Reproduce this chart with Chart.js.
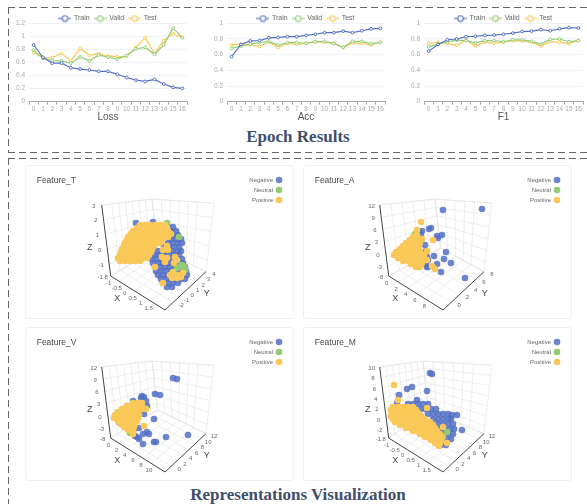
<!DOCTYPE html>
<html>
<head>
<meta charset="utf-8">
<title>Epoch Results</title>
<script src="https://cdn.jsdelivr.net/npm/chart.js@4"></script>
<style>
  html, body { margin: 0; padding: 0; background: #fff; }
  body { position: relative; width: 587px; height: 504px; overflow: hidden; font-family: "Liberation Sans", sans-serif; }
  canvas { position: absolute; }
  .dash-h { position: absolute; height: 1px; background: repeating-linear-gradient(90deg, #666 0 7px, transparent 7px 11px); }
  .dash-v { position: absolute; width: 1px; background: repeating-linear-gradient(180deg, #666 0 7px, transparent 7px 11px); }
  .card { position: absolute; width: 269px; height: 154px; border: 1px solid #eef0f7; border-radius: 3px; box-sizing: border-box; }
  .heading { position: absolute; left: 0; width: 596px; text-align: center; font: bold 17px "Liberation Serif", serif; color: #3f4f6b; }
</style>
</head>
<body>
<div class="dash-h" style="left:8px;top:7px;width:579px"></div>
<div class="dash-v" style="left:8px;top:7px;height:145px"></div>
<div class="dash-h" style="left:8px;top:152px;width:579px"></div>
<div class="dash-h" style="left:8px;top:158px;width:579px"></div>
<div class="dash-v" style="left:8px;top:158px;height:346px"></div>
<div class="heading" style="top:127px">Epoch Results</div>
<div class="heading" style="top:485px">Representations Visualization</div>

<div class="card" style="left:25px;top:165px"></div>
<div class="card" style="left:303px;top:165px"></div>
<div class="card" style="left:25px;top:327px"></div>
<div class="card" style="left:303px;top:327px"></div>

<canvas id="loss" width="200" height="115" style="left:8px;top:8px"></canvas>
<canvas id="acc" width="200" height="115" style="left:206px;top:8px"></canvas>
<canvas id="f1" width="200" height="115" style="left:403px;top:8px"></canvas>
<canvas id="featT" width="269" height="154" style="left:25px;top:165px"></canvas>
<canvas id="featA" width="269" height="154" style="left:303px;top:165px"></canvas>
<canvas id="featV" width="269" height="154" style="left:25px;top:327px"></canvas>
<canvas id="featM" width="269" height="154" style="left:303px;top:327px"></canvas>

<script>
const epochs = ['0','1','2','3','4','5','6','7','8','9','10','11','12','13','14','15','16'];

const lossTrain = [.868,.68,.59,.59,.52,.50,.485,.465,.465,.42,.37,.33,.31,.34,.27,.22,.205];
const lossValid = [.79,.665,.63,.625,.59,.685,.625,.715,.68,.655,.705,.81,.83,.725,.87,1.125,.98];
const lossTest = [.755,.67,.675,.74,.625,.815,.71,.735,.70,.69,.695,.83,.98,.74,.935,1.04,.98];

const accTrain = [.575,.73,.775,.78,.815,.82,.83,.83,.845,.86,.88,.88,.90,.88,.905,.93,.935];
const accValid = [.68,.71,.735,.755,.77,.72,.755,.755,.745,.765,.77,.74,.695,.77,.77,.74,.755];
const accTest = [.725,.735,.725,.705,.765,.69,.745,.73,.745,.765,.76,.745,.69,.75,.745,.725,.76];

const f1Train = [.645,.73,.79,.80,.83,.835,.845,.85,.86,.875,.895,.90,.92,.905,.93,.945,.94];
const f1Valid = [.70,.735,.765,.785,.78,.75,.78,.78,.765,.79,.79,.77,.735,.795,.80,.765,.78];
const f1Test = [.745,.755,.745,.72,.785,.71,.76,.745,.76,.78,.775,.76,.71,.765,.76,.74,.78];

// the 3d scatters only exist as a projection in the picture, so points are [across, down] as seen on the card
const tNegative = [[111,58],[128,57],[143,62],[148,62],[146,66],[151,66],[148,70],[153,70],[146,74],[151,74],[156,74],
  [143,78],[148,78],[153,78],[157,78],[139,82],[144,82],[149,82],[154,82],
  [133,86],[138,86],[143,86],[148,86],[153,86],[156,86],[129,90],[134,90],[139,90],[144,90],[149,90],[154,90],
  [127,94],[132,94],[137,94],[142,94],[147,94],[152,94],[157,94],[128,98],[133,98],[138,98],[143,98],[148,98],[153,98],[158,98],
  [130,102],[135,102],[140,102],[145,102],[150,102],[155,102],[160,102],[131,106],[136,106],[141,106],[146,106],[151,106],[156,106],[161,106],
  [133,110],[138,110],[143,110],[148,110],[153,110],[158,110],[162,110],[136,114],[141,114],[146,114],[151,114],[156,114],[160,114],
  [138,118],[143,118],[148,118],[153,118],[142,122],[147,122]];
const tNeutral = [[152,103],[155,102],[159,102],[160,105],[154,72],[142,58],[157,100]];
const tPositive = [[115,60],[120,60],[125,60],[130,60],[135,60],[140,60],
  [112,63],[117,63],[122,63],[127,63],[132,63],[137,63],[142,63],
  [108,66],[113,66],[118,66],[123,66],[128,66],[133,66],[138,66],[143,66],
  [106,69],[111,69],[116,69],[121,69],[126,69],[131,69],[136,69],[141,69],[146,69],
  [103,72],[108,72],[113,72],[118,72],[123,72],[128,72],[133,72],[138,72],[143,72],
  [102,75],[107,75],[112,75],[117,75],[122,75],[127,75],[132,75],[137,75],
  [100,78],[105,78],[110,78],[115,78],[120,78],[125,78],[130,78],[135,78],
  [99,81],[104,81],[109,81],[114,81],[119,81],[124,81],[129,81],
  [97,84],[102,84],[107,84],[112,84],[117,84],[122,84],[127,84],
  [96,87],[101,87],[106,87],[111,87],[116,87],[121,87],[126,87],
  [95,90],[100,90],[105,90],[110,90],[115,90],[120,90],[124,90],
  [93,93],[98,93],[103,93],[108,93],[113,93],[118,93],[122,93],
  [95,96],[100,96],[105,96],[110,96],[115,96],
  [138,85],[142,81],[143,85],[137,92],[142,93],[140,97],[150,92],[152,95],[149,98],[130,102],
  [145,110],[148,107],[153,110],[158,108],[147,113],[152,113],[138,118],[156,112]];

const aNegative = [[140,45],[179,44],[128,63],[126,64],[119,66],[116,67],[134,71],[135,73],[139,70],[122,80],[143,87],[123,86],
  [131,91],[141,94],[148,98],[134,99],[138,107],[162,113],[124,92],[119,93],[125,95],[123,99],[125,102],[124,102],[117,77],[118,70]];
const aNeutral = [[112,69],[102,81]];
const aPositive = [[118,57],[114,65],[130,75],[119,74],[114,70],[124,86],[121,90],[119,98],[129,101],[132,104],[124,95],
  [110,72],[114,72],[107,75],[112,75],[116,75],[103,78],[108,78],[113,78],[117,78],[100,81],[105,81],[110,81],[115,81],
  [97,84],[102,84],[107,84],[112,84],[116,84],[93,87],[98,87],[103,87],[108,87],[113,87],[117,87],
  [91,90],[96,90],[101,90],[106,90],[111,90],[116,90],[119,90],[95,93],[100,93],[105,93],[110,93],[115,93],[119,93],
  [100,96],[105,96],[110,96],[115,96],[119,96],[108,99],[113,99],[117,99],[113,102],[117,102]];

const vNegative = [[148,51],[152,52],[130,67],[135,68],[117,69],[119,70],[121,74],[116,71],[108,74],[122,79],[119,87],[129,92],
  [110,101],[114,101],[108,105],[112,110],[114,112],[110,109],[122,105],[118,107],[124,107],[141,110],[163,108],[118,117],[129,115],[131,115],
  [95,96],[102,100],[102,79]];
const vNeutral = [[105,106]];
const vPositive = [[108,76],[113,76],[117,76],[102,79],[107,79],[112,79],[117,79],[97,82],[102,82],[107,82],[112,82],[117,82],
  [93,85],[98,85],[103,85],[108,85],[113,85],[90,88],[95,88],[100,88],[105,88],[110,88],[114,88],
  [89,91],[94,91],[99,91],[104,91],[109,91],[113,91],[93,94],[98,94],[103,94],[108,94],[112,94],
  [96,97],[101,97],[106,97],[110,97],[99,100],[104,100],[109,100],[103,103],[108,103],
  [121,82],[119,99],[108,107],[112,91]];

const mNegative = [[127,46],[129,47],[104,62],[109,60],[124,64],[96,68],[114,73],[94,76],[159,103],[154,88],[149,88],
  [105,77],[110,77],[115,77],[120,77],[125,77],[118,82],[123,82],[128,82],[133,82],
  [125,87],[130,87],[135,87],[140,87],[145,87],[130,92],[135,92],[140,92],[145,92],[148,92],
  [135,97],[140,97],[145,97],[150,97],[137,102],[142,102],[147,102],[151,102],[140,107],[145,107],[150,107],
  [143,112],[148,112],[138,118],[143,118]];
const mNeutral = [[144,105],[130,100],[140,110]];
const mPositive = [[91,58],[95,73],[124,81],[140,100],[144,116],
  [90,80],[95,80],[100,80],[105,80],[110,80],[88,83],[93,83],[98,83],[103,83],[108,83],[113,83],
  [90,86],[95,86],[100,86],[105,86],[110,86],[115,86],[88,89],[93,89],[98,89],[103,89],[108,89],[113,89],[118,89],
  [90,92],[95,92],[100,92],[105,92],[110,92],[115,92],[122,92],[92,95],[97,95],[102,95],[107,95],[112,95],[117,95],[122,95],[127,95],
  [97,98],[102,98],[107,98],[112,98],[117,98],[122,98],[127,98],[130,98],[103,101],[108,101],[113,101],[118,101],[123,101],[128,101],[132,101],
  [110,104],[115,104],[120,104],[125,104],[130,104],[134,104],[117,107],[122,107],[127,107],[132,107],[137,107],
  [122,110],[127,110],[132,110],[137,110],[139,110],[128,113],[133,113],[138,113],[132,116],[137,116],[136,119]];

// axis ticks of the 3d boxes
const tXTicks = [-1,-0.5,0,0.5,1,1.5];
const tYTicks = [-2,-1,0,1,2,3,4];
const tZTicks = [3,2,1,0,-1,-1.8];
const tZLabels = ['3','2','1','0','-1','-1.8'];
const aXTicks = [0,2,4,6,8];
const aYTicks = [0,2,4,6,8];
const aZTicks = [12,9,6,3,0,-3,-5.4];
const aZLabels = ['12','9','6','3','0','-3','-8'];
const vXTicks = [0,2,4,6,8,10];
const vYTicks = [0,2,4,6,8,10,12];
const vZTicks = [12,9,6,3,0,-3,-5.4];
const vZLabels = ['12','9','6','3','0','-3','-8'];
const mXTicks = [-1,-0.5,0,0.5,1,1.5];
const mYTicks = [0,2,4,6,8,10,12];
const mZTicks = [10,8,6,4,2,0,-2,-3.6];
const mZLabels = ['10','8','6','4','2','0','-2','-1.8'];

const BLUE = '#5470c6', GREEN = '#91cc75', YELLOW = '#fac858';

function legendIcon(color) {
    let c = document.createElement('canvas');
    c.width = 13;
    c.height = 8;
    let g = c.getContext('2d');
    g.strokeStyle = color;
    g.lineWidth = 1.1;
    g.beginPath();
    g.moveTo(0, 4);
    g.lineTo(13, 4);
    g.stroke();
    g.fillStyle = '#fff';
    g.beginPath();
    g.arc(6.5, 4, 2.8, 0, Math.PI * 2);
    g.fill();
    g.stroke();
    return c;
}

// legend height fixed so the plot lands in the same place, and centred over the plot
const fixLegend = {
    id: 'fixLegend',
    beforeInit(chart) {
        const fit = chart.legend.fit;
        chart.legend.fit = function () {
            fit.call(this);
            this.height = 13.3;
        };
    },
    afterLayout(chart) {
        chart.legend.left += 10.5;
        chart.legend.right += 10.5;
    }
};

function lineChart(id, name, train, valid, test, maxY) {
    const mk = (label, data, color) => ({
        label: label, data: data, borderColor: color, backgroundColor: color,
        borderWidth: 1.2, pointRadius: 1.4, pointBackgroundColor: '#fff', pointBorderWidth: 1, tension: 0
    });
    new Chart(document.getElementById(id), {
        type: 'line',
        plugins: [fixLegend],
        data: {
            labels: epochs,
            datasets: [mk('Train', train, BLUE), mk('Valid', valid, GREEN), mk('Test', test, YELLOW)]
        },
        options: {
            responsive: false,
            animation: false,
            layout: { padding: { left: 0, right: id == 'f1' ? 20 : 21, top: 2, bottom: 0 } },
            plugins: {
                title: { display: false },
                legend: {
                    align: 'center',
                    labels: {
                        usePointStyle: true,
                        pointStyleWidth: 11,
                        boxHeight: 7,
                        padding: 5,
                        color: '#666',
                        font: { size: 7, family: 'Liberation Sans' },
                        generateLabels(chart) {
                            let items = Chart.defaults.plugins.legend.labels.generateLabels(chart);
                            items.forEach(it => { it.pointStyle = legendIcon(it.strokeStyle); });
                            return items;
                        }
                    }
                }
            },
            scales: {
                x: {
                    offset: true,
                    afterFit(s) { s.height = 21.3; },
                    grid: { drawOnChartArea: false, color: '#aaa', tickLength: 3, offset: true },
                    border: { color: '#aaa' },
                    ticks: { color: '#aaa', padding: 1, maxRotation: 0, autoSkip: false, font: { size: 6.5, family: 'Liberation Sans' } },
                    title: { display: true, text: name, color: '#555', padding: 0, font: { size: 10, family: 'Liberation Sans' } }
                },
                y: {
                    min: 0,
                    max: maxY,
                    afterFit(s) { s.width = 21; },
                    grid: { color: '#eef1f7', tickLength: 0 },
                    border: { display: false },
                    ticks: { stepSize: 0.2, color: '#aaa', padding: 4, font: { size: 6.5, family: 'Liberation Sans' },
                        callback: v => String(Math.round(v * 10) / 10) }
                }
            }
        }
    });
}

lineChart('loss', 'Loss', lossTrain, lossValid, lossTest, 1.2);
lineChart('acc', 'Acc', accTrain, accValid, accTest, 1);
lineChart('f1', 'F1', f1Train, f1Valid, f1Test, 1);

// wire box behind the points
const box = { topLeft: [76.7,40], topBack: [127,34], topRight: [189,38.3], botLeft: [85.7,111], botFront: [140,145], botRight: [181,106.7], botBack: [132.5,83] };
const mix = (p, q, t) => [p[0] + (q[0] - p[0]) * t, p[1] + (q[1] - p[1]) * t];

const box3d = {
    id: 'box3d',
    beforeDatasetsDraw(chart, args, o) {
        const ctx = chart.ctx, sx = chart.scales.x, sy = chart.scales.y;
        const px = p => [sx.getPixelForValue(p[0]), sy.getPixelForValue(p[1])];
        const seg = (pts, color, w) => {
            ctx.strokeStyle = color;
            ctx.lineWidth = w;
            ctx.beginPath();
            pts.forEach((p, i) => {
                const q = px(p);
                if (i) ctx.lineTo(q[0], q[1]); else ctx.moveTo(q[0], q[1]);
            });
            ctx.stroke();
        };
        const frac = (v, r) => (v - r[0]) / (r[1] - r[0]);
        const b = box;
        const back = o.backX ? [o.backX, b.topBack[1]] : b.topBack;
        const floorBack = o.backX ? [o.backX + 5.5, b.botBack[1]] : b.botBack;
        const GRID = '#e6e6e6';
        ctx.save();
        o.xTicks.forEach(v => {
            const f = frac(v, o.xRange);
            const e = mix(floorBack, b.botRight, f);
            seg([mix(b.botLeft, b.botFront, f), e, mix(back, b.topRight, f)], GRID, 0.7);
        });
        o.yTicks.forEach(v => {
            const f = frac(v, o.yRange);
            const e = mix(b.botLeft, floorBack, f);
            seg([mix(b.botFront, b.botRight, f), e, mix(b.topLeft, back, f)], GRID, 0.7);
        });
        o.zTicks.forEach(v => {
            const f = frac(v, o.zRange);
            seg([mix(b.botLeft, b.topLeft, f), mix(floorBack, back, f), mix(b.botRight, b.topRight, f)], GRID, 0.7);
        });
        seg([b.topLeft, back, b.topRight, b.botRight, floorBack, b.botLeft], GRID, 0.7);
        seg([floorBack, back], GRID, 0.7);
        seg([b.topLeft, b.botLeft, b.botFront, b.botRight], '#444', 1);

        ctx.fillStyle = '#666';
        ctx.font = '6px "Liberation Sans"';
        ctx.textAlign = 'center';
        ctx.textBaseline = 'middle';
        o.xTicks.forEach(v => {
            const q = px(mix(b.botLeft, b.botFront, frac(v, o.xRange)));
            ctx.fillText(String(v), q[0] - 2, q[1] + 7);
        });
        o.yTicks.forEach(v => {
            const q = px(mix(b.botFront, b.botRight, frac(v, o.yRange)));
            ctx.fillText(String(v), q[0] + 8, q[1] + 3);
        });
        o.zTicks.forEach((v, i) => {
            const q = px(mix(b.botLeft, b.topLeft, frac(v, o.zRange)));
            ctx.fillText(o.zLabels[i], q[0] - 8, q[1] + 1);
        });
        ctx.fillStyle = '#444';
        ctx.font = '9px "Liberation Sans"';
        ctx.fillText('X', sx.getPixelForValue(92.3), sy.getPixelForValue(134));
        ctx.fillText('Y', sx.getPixelForValue(181.7), sy.getPixelForValue(129));
        ctx.fillText('Z', sx.getPixelForValue(64.7), sy.getPixelForValue(83));
        ctx.textAlign = 'left';
        ctx.fillStyle = '#464646';
        ctx.font = '8.5px "Liberation Sans"';
        ctx.fillText(o.title, sx.getPixelForValue(11.7), sy.getPixelForValue(15.7));
        ctx.restore();
    }
};

// legend sits inside the card, top right
const placeLegend = {
    id: 'placeLegend',
    afterLayout(chart) {
        const l = chart.legend;
        l.left = chart.width - l.width - 8;
        l.right = chart.width - 8;
        l.top = 8;
    }
};

function featureChart(id, title, neg, neu, pos, o) {
    const mk = (label, pts, color) => ({
        label: label,
        data: pts.map(p => ({ x: p[0], y: p[1] })),
        backgroundColor: color,
        borderWidth: 0,
        pointRadius: 3.3,
        pointHoverRadius: 3.3
    });
    new Chart(document.getElementById(id), {
        type: 'scatter',
        plugins: [box3d, placeLegend],
        data: {
            // lower order is painted on top, positives must end up above the rest
            datasets: [mk('Negative', neg, 'rgba(84,112,198,0.85)'), mk('Neutral', neu, GREEN), mk('Positive', pos, YELLOW)]
                .map((d, i) => Object.assign(d, { order: 3 - i }))
        },
        options: {
            responsive: false,
            animation: false,
            layout: { padding: 0, autoPadding: false },
            scales: {
                x: { display: false, min: 0, max: 269 },
                y: { display: false, min: 0, max: 154, reverse: true }
            },
            plugins: {
                box3d: Object.assign({ title: title }, o),
                tooltip: { enabled: false },
                legend: {
                    position: 'chartArea',
                    align: 'start',
                    rtl: true,
                    labels: {
                        usePointStyle: true,
                        pointStyle: 'circle',
                        boxHeight: 4.7,
                        padding: 4,
                        color: '#666',
                        font: { size: 6, family: 'Liberation Sans' },
                        sort: (a, b) => a.datasetIndex - b.datasetIndex
                    }
                }
            }
        }
    });
}

featureChart('featT', 'Feature_T', tNegative, tNeutral, tPositive,
    { xTicks: tXTicks, yTicks: tYTicks, zTicks: tZTicks, zLabels: tZLabels, xRange: [-1, 2.4], yRange: [-3.5, 4], zRange: [-1.8, 3] });
featureChart('featA', 'Feature_A', aNegative, aNeutral, aPositive,
    { xTicks: aXTicks, yTicks: aYTicks, zTicks: aZTicks, zLabels: aZLabels, xRange: [0, 11.5], yRange: [-2, 8], zRange: [-5.4, 12], backX: 132 });
featureChart('featV', 'Feature_V', vNegative, vNeutral, vPositive,
    { xTicks: vXTicks, yTicks: vYTicks, zTicks: vZTicks, zLabels: vZLabels, xRange: [0, 13.5], yRange: [-2.1, 12], zRange: [-5.4, 12] });
featureChart('featM', 'Feature_M', mNegative, mNeutral, mPositive,
    { xTicks: mXTicks, yTicks: mYTicks, zTicks: mZTicks, zLabels: mZLabels, xRange: [-1, 2.4], yRange: [-2.1, 12], zRange: [-3.6, 10], backX: 120 });
</script>
</body>
</html>
